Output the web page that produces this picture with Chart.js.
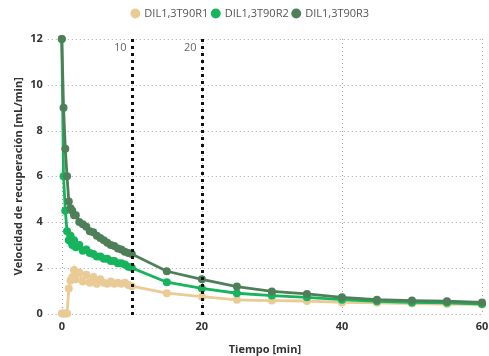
<!DOCTYPE html>
<html>
<head>
<meta charset="utf-8">
<script src="https://cdn.jsdelivr.net/npm/chart.js@4.4.1/dist/chart.umd.min.js"></script>
<style>
  body { margin: 0; background: #fff; }
  #wrap { width: 489px; height: 356px; }
</style>
</head>
<body>
<div id="wrap"><canvas id="myChart"></canvas></div>
<script>
// tiempo de muestreo [min]
var tiempo = [0, 0.25, 0.5, 0.75, 1, 1.25, 1.5, 1.75, 2, 2.5, 3, 3.5, 4, 4.5, 5, 5.5, 6, 6.5, 7, 7.5, 8, 8.5, 9, 9.5, 10,
  15, 20, 25, 30, 35, 40, 45, 50, 55, 60];

// velocidad de recuperacion [mL/min]
var r1 = [0, 0, 0, 0, 1.1, 1.45, 1.6, 1.9, 1.5, 1.8, 1.4, 1.7, 1.35, 1.6, 1.3, 1.5, 1.35, 1.3, 1.4, 1.3, 1.35, 1.3, 1.35, 1.25, 1.2,
  0.89, 0.74, 0.6, 0.57, 0.55, 0.49, 0.47, 0.44, 0.42, 0.4];
var r2 = [12, 6.0, 4.5, 3.6, 3.2, 3.4, 3.0, 3.2, 2.9, 3.0, 2.75, 2.8, 2.65, 2.6, 2.5, 2.5, 2.4, 2.4, 2.3, 2.3, 2.2, 2.2, 2.15, 2.05, 2.0,
  1.37, 1.1, 0.89, 0.79, 0.71, 0.61, 0.54, 0.49, 0.47, 0.42];
var r3 = [12, 9.0, 7.2, 6.0, 4.9, 4.6, 4.5, 4.3, 4.3, 4.0, 3.9, 3.8, 3.6, 3.55, 3.4, 3.3, 3.2, 3.1, 3.0, 2.95, 2.85, 2.8, 2.7, 2.65, 2.6,
  1.85, 1.5, 1.18, 0.97, 0.86, 0.71, 0.61, 0.57, 0.54, 0.49];

var nombres = ['DIL1,3T90R1', 'DIL1,3T90R2', 'DIL1,3T90R3'];
var xTicks = [0, 20, 40, 60];
var marcas = [10, 20]; // lineas verticales de referencia

function pares(vals) {
  return tiempo.map(function (t, i) { return { x: t, y: vals[i] }; });
}

function serie(label, vals, color, orden) {
  return {
    label: label,
    data: pares(vals),
    borderColor: color,
    backgroundColor: color,
    borderWidth: 2.8,
    pointRadius: 4,
    pointHoverRadius: 4,
    pointBorderWidth: 0,
    order: orden,
    clip: false
  };
}

// rejilla punteada gris
var rejilla = {
  id: 'rejilla',
  beforeDatasetsDraw: function (chart) {
    var ctx = chart.ctx;
    var area = chart.chartArea;
    var xs = chart.scales.x;
    var ys = chart.scales.y;
    ctx.save();
    ctx.strokeStyle = '#a8a8a8';
    ctx.lineWidth = 1;
    ctx.setLineDash([1, 3]);
    ys.ticks.forEach(function (t) {
      var py = Math.round(ys.getPixelForValue(t.value)) + 0.5;
      ctx.beginPath();
      ctx.moveTo(area.left, py);
      ctx.lineTo(area.right, py);
      ctx.stroke();
    });
    xs.ticks.forEach(function (t) {
      var px = Math.round(xs.getPixelForValue(t.value)) + 0.5;
      ctx.beginPath();
      ctx.moveTo(px, area.top);
      ctx.lineTo(px, area.bottom);
      ctx.stroke();
    });
    ctx.restore();
  }
};

// lineas punteadas negras en 10 y 20 min
var lineasRef = {
  id: 'lineasRef',
  afterDatasetsDraw: function (chart) {
    var ctx = chart.ctx;
    var xs = chart.scales.x;
    var area = chart.chartArea;
    ctx.save();
    marcas.forEach(function (m) {
      var px = Math.round(xs.getPixelForValue(m)) + 0.5;
      ctx.strokeStyle = '#111';
      ctx.lineWidth = 3;
      ctx.setLineDash([3, 4]);
      ctx.beginPath();
      ctx.moveTo(px, area.top);
      ctx.lineTo(px, area.bottom + 4);
      ctx.stroke();
      ctx.fillStyle = '#666';
      ctx.font = '11px "Open Sans"';
      ctx.textAlign = 'right';
      ctx.textBaseline = 'middle';
      ctx.fillText(String(m), px - 6, area.top + 9);
    });
    ctx.restore();
  }
};

// espacio extra bajo la leyenda
var margenLeyenda = {
  id: 'margenLeyenda',
  beforeInit: function (chart) {
    var fit = chart.legend.fit;
    chart.legend.fit = function () {
      fit.bind(chart.legend)();
      this.height += 10;
    };
  }
};

var ctx = document.getElementById('myChart').getContext('2d');

var chartData = {
  type: 'line',
  data: {
    datasets: [
      serie(nombres[0], r1, '#EACB96', 2),
      serie(nombres[1], r2, '#16B45C', 1),
      serie(nombres[2], r3, '#4F7F59', 0)
    ]
  },
  options: {
    responsive: true,
    maintainAspectRatio: false,
    animation: false,
    layout: { padding: { top: 4, right: 0, left: 12, bottom: 0 } },
    plugins: {
      tooltip: { enabled: false },
      legend: {
        position: 'top',
        labels: {
          usePointStyle: true,
          pointStyle: 'circle',
          boxWidth: 7,
          boxHeight: 7,
          padding: 4,
          color: '#555',
          font: { family: '"Open Sans"', size: 11 },
          sort: function (a, b) { return a.datasetIndex - b.datasetIndex; }
        }
      }
    },
    scales: {
      x: {
        type: 'linear',
        min: -2,
        max: 60,
        afterBuildTicks: function (axis) {
          axis.ticks = xTicks.map(function (v) { return { value: v }; });
        },
        afterFit: function (axis) {
          axis.paddingRight = 7;
        },
        grid: { display: false, drawTicks: false },
        border: { display: false },
        ticks: {
          padding: 7,
          color: '#333',
          font: { family: '"Open Sans"', size: 11, weight: 'bold' }
        },
        title: {
          display: true,
          text: 'Tiempo [min]',
          color: '#333',
          padding: { top: 2, bottom: 0 },
          font: { family: '"Open Sans"', size: 11, weight: 'bold' }
        }
      },
      y: {
        min: 0,
        max: 12,
        ticks: {
          stepSize: 2,
          padding: 5,
          color: '#333',
          font: { family: '"Open Sans"', size: 11, weight: 'bold' }
        },
        grid: { display: false, drawTicks: false },
        border: { display: false },
        title: {
          display: true,
          text: 'Velocidad de recuperación [mL/min]',
          color: '#333',
          padding: { top: 0, bottom: 0 },
          font: { family: '"Open Sans"', size: 11, weight: 'bold' }
        }
      }
    }
  },
  plugins: [rejilla, lineasRef, margenLeyenda]
};

var myChart = new Chart(ctx, chartData);
</script>
</body>
</html>
